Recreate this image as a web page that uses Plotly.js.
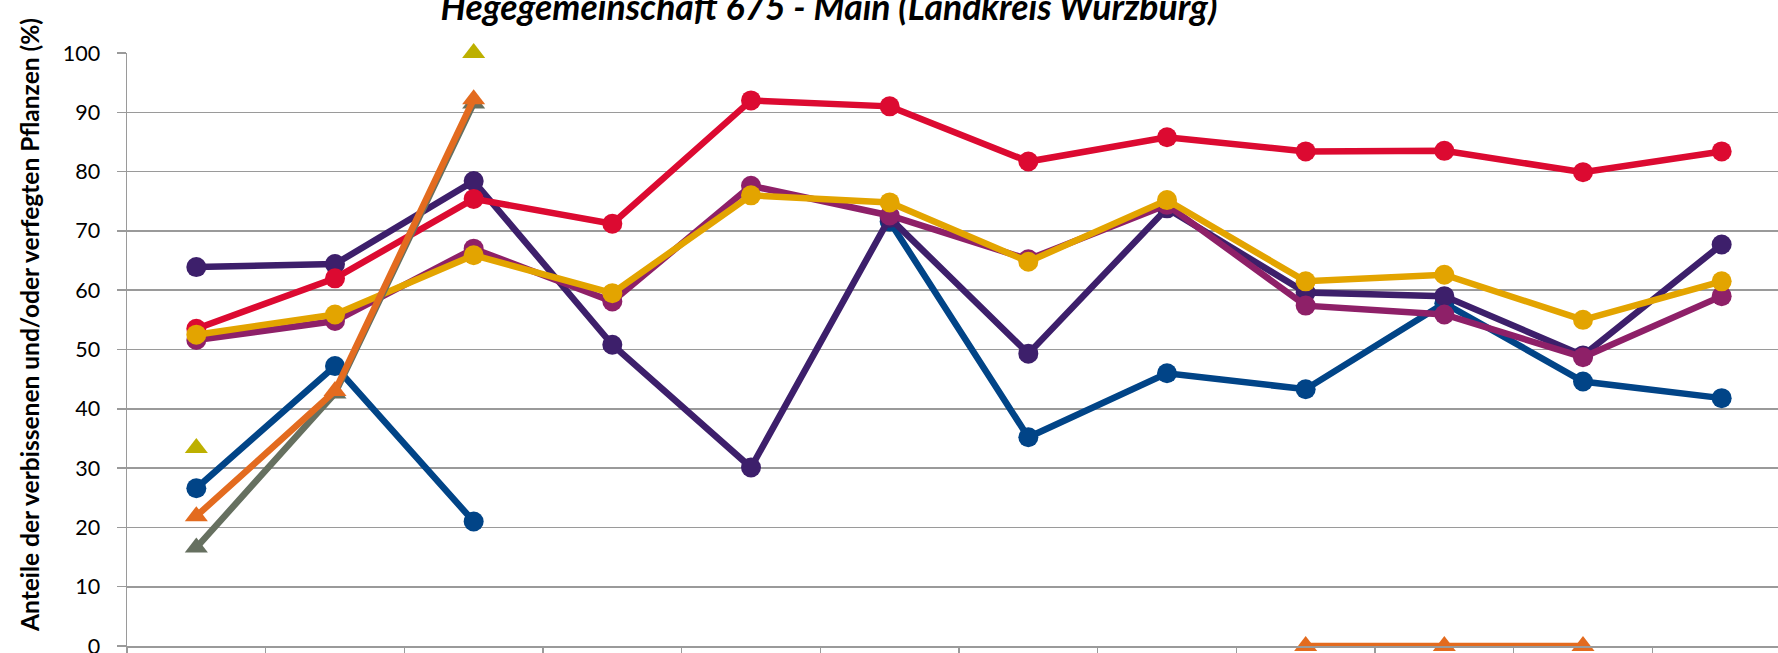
<!DOCTYPE html>
<html>
<head>
<meta charset="utf-8">
<script src="https://cdn.plot.ly/plotly-3.0.1.min.js"></script>
<style>
  html, body { margin: 0; padding: 0; width: 1778px; height: 653px; overflow: hidden; background: #ffffff; }
  #chart { position: absolute; left: 0; top: -40px; width: 1920px; height: 760px; }
</style>
</head>
<body>
<div id="chart"></div>
<script>
// Categories (survey years; their axis labels lie below the visible area in the reference)
const categories = ['1991','1994','1997','2000','2003','2006','2009','2012','2015','2018','2021','2024'];

// Series values (% browsed and/or fraying-damaged plants)
const seriesBlue    = [26.6, 47.2, 21.0, null, null, 71.6, 35.2, 46.0, 43.3, 57.8, 44.6, 41.8];
const seriesPurple  = [63.9, 64.4, 78.4, 50.8, 30.1, 72.2, 49.3, 73.8, 59.6, 59.0, 49.0, 67.7];
const seriesRed     = [53.5, 62.0, 75.4, 71.2, 92.0, 91.0, 81.7, 85.8, 83.4, 83.5, 79.9, 83.4];
const seriesMagenta = [51.6, 54.8, 67.0, 58.1, 77.6, 72.6, 65.2, 74.4, 57.4, 55.9, 48.7, 59.0];
const seriesGold    = [52.5, 55.9, 65.9, 59.5, 76.0, 74.8, 64.8, 75.2, 61.5, 62.6, 55.0, 61.5];
const seriesGrey    = [16.6, 42.6, 91.5, null, null, null, null, null, null, null, null, null];
const seriesOrange  = [21.9, 43.0, 92.2, null, null, null, null, null, 0, 0, 0, null];
const seriesOlive   = [33.4, null, 100, null, null, null, null, null, null, null, null, null];

const yTickVals = [0, 10, 20, 30, 40, 50, 60, 70, 80, 90, 100];

function circleSeries(name, y, color) {
  return {
    type: 'scatter', mode: 'lines+markers', name: name,
    x: categories, y: y, connectgaps: false, cliponaxis: false,
    line: { color: color, width: 6.5 },
    marker: { color: color, size: 20, symbol: 'circle' }
  };
}
function triangleSeries(name, y, color) {
  return {
    type: 'scatter', mode: 'lines+markers', name: name,
    x: categories, y: y, connectgaps: false, cliponaxis: false,
    line: { color: color, width: 6.5 },
    marker: { color: color, size: 20, symbol: 'triangle-up' }
  };
}

const traces = [
  circleSeries('Reihe 1', seriesBlue, '#014487'),
  circleSeries('Reihe 2', seriesPurple, '#3d1f6b'),
  circleSeries('Reihe 3', seriesRed, '#dc0a31'),
  circleSeries('Reihe 4', seriesMagenta, '#8e2068'),
  circleSeries('Reihe 5', seriesGold, '#e3a400'),
  triangleSeries('Reihe 6', seriesGrey, '#667060'),
  triangleSeries('Reihe 7', seriesOrange, '#e36b1f'),
  triangleSeries('Reihe 8', seriesOlive, '#bdb000')
];

const layout = {
  width: 1920, height: 760,
  paper_bgcolor: '#ffffff', plot_bgcolor: '#ffffff',
  margin: { l: 127, r: 129, t: 93, b: 74 },
  showlegend: false,
  font: { family: 'Lato, sans-serif', color: '#000000' },
  title: {
    text: 'Hegegemeinschaft 675 - Main (Landkreis Würzburg)',
    font: { family: 'Lato, sans-serif', size: 35.5, weight: 'bold', style: 'italic', color: '#000000' },
    xref: 'container', x: 829 / 1920, xanchor: 'center',
    yref: 'container', y: 1 - 60 / 760, yanchor: 'bottom'
  },
  xaxis: {
    type: 'category', range: [-0.5, 11.5],
    tickson: 'boundaries', ticks: 'outside', ticklen: 12, tickwidth: 1.5, tickcolor: '#9a9a9a',
    showgrid: false, showline: true, linecolor: '#9a9a9a', linewidth: 1.5,
    showticklabels: false, zeroline: false
  },
  yaxis: {
    range: [0, 100], tickvals: yTickVals, ticktext: yTickVals.map(String),
    ticks: 'outside', ticklen: 9, tickwidth: 1.5, tickcolor: '#9a9a9a',
    showgrid: true, gridcolor: '#9a9a9a', gridwidth: 1.6,
    showline: true, linecolor: '#9a9a9a', linewidth: 1.5,
    zeroline: false, tickfont: { size: 21.5, color: '#000000' },
    ticklabelstandoff: 12
  },
  annotations: [{
    text: 'Anteile der verbissenen und/oder verfegten Pflanzen (%)',
    textangle: -90, showarrow: false,
    xref: 'paper', x: (30 - 127) / 1664, xanchor: 'center',
    yref: 'paper', y: (686 - 365) / 593, yanchor: 'middle',
    font: { family: 'Lato, sans-serif', size: 24.5, weight: 'bold', color: '#000000' }
  }]
};

Plotly.newPlot('chart', traces, layout, { displayModeBar: false, staticPlot: true });
</script>
</body>
</html>
